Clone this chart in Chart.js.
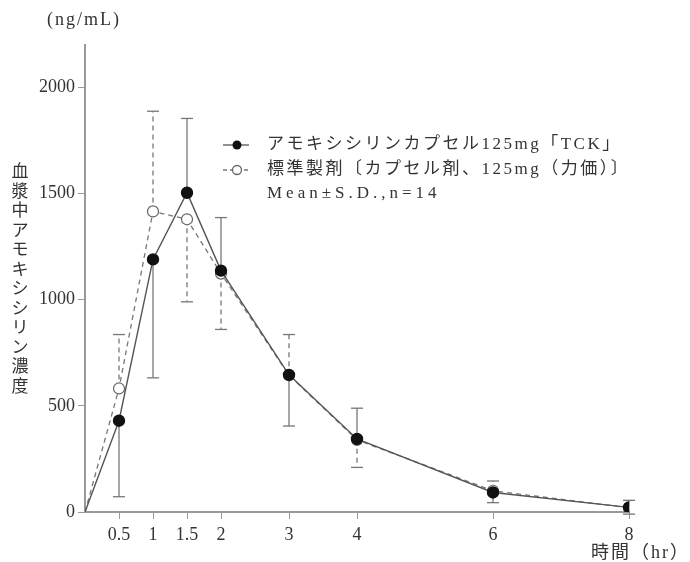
<!DOCTYPE html>
<html>
<head>
<meta charset="utf-8">
<script src="https://cdn.jsdelivr.net/npm/chart.js@4.4.1/dist/chart.umd.min.js"></script>
<style>
  html, body { margin: 0; padding: 0; background: #fff; }
  #wrap { width: 690px; height: 562px; }
</style>
</head>
<body>
<div id="wrap"><canvas id="chart" width="690" height="562"></canvas></div>
<script>
// sampling times (hr) and tick positions
const hours = [0, 0.5, 1, 1.5, 2, 3, 4, 6, 8];
const hourTicks = [0.5, 1, 1.5, 2, 3, 4, 6, 8];
const concTicks = [0, 500, 1000, 1500, 2000];

// アモキシシリンカプセル125mg「TCK」
const tckMean = [0, 430, 1190, 1504, 1137, 646, 344, 92, 22];
const tckSd   = [0, 358, 558, 350, 250, 241, 145, 48, 33];
const tckSide = [0, -1, -1, 1, 1, -1, 1, -1, 1];

// 標準製剤
const refMean = [0, 582, 1416, 1379, 1123, 644, 340, 100, 20];
const refSd   = [0, 254, 472, 389, 263, 192, 130, 46, 30];
const refSide = [0, 1, 1, -1, -1, 1, -1, 1, -1];

const legendLabels = [
  'アモキシシリンカプセル125mg「TCK」',
  '標準製剤〔カプセル剤、125mg（力価）〕',
  'Mean±S.D.,n=14'
];
const yTitle = '血漿中アモキシシリン濃度';

const FONT = '"Liberation Serif", "Noto Sans CJK JP", serif';
const TEXT = '#333';

const errorBars = {
  id: 'errorBars',
  beforeDatasetsDraw(chart) {
    const ctx = chart.ctx;
    const y = chart.scales.y;
    const sets = [[tckMean, tckSd, tckSide, []], [refMean, refSd, refSide, [5, 4]]];
    sets.forEach(([mean, sd, side, dash], di) => {
      const meta = chart.getDatasetMeta(di);
      ctx.save();
      ctx.strokeStyle = '#777';
      ctx.lineWidth = 1.3;
      ctx.setLineDash(dash);
      meta.data.forEach((pt, i) => {
        if (!sd[i]) return;
        const end = y.getPixelForValue(mean[i] + side[i] * sd[i]);
        ctx.beginPath();
        ctx.moveTo(pt.x, pt.y);
        ctx.lineTo(pt.x, end);
        ctx.stroke();
        ctx.setLineDash([]);
        ctx.beginPath();
        ctx.moveTo(pt.x - 6, end);
        ctx.lineTo(pt.x + 6, end);
        ctx.stroke();
        ctx.setLineDash(dash);
      });
      ctx.restore();
    });
  }
};

const labels = {
  id: 'labels',
  afterDraw(chart) {
    const ctx = chart.ctx;
    ctx.save();
    ctx.fillStyle = TEXT;
    ctx.textBaseline = 'middle';

    // unit and axis titles
    ctx.font = '18px ' + FONT;
    ctx.letterSpacing = '2px';
    ctx.textAlign = 'left';
    ctx.fillText('(ng/mL)', 47, 20);
    ctx.textAlign = 'right';
    ctx.letterSpacing = '2px';
    ctx.fillText('時間（hr）', 690, 553);
    ctx.letterSpacing = '0px';

    ctx.textAlign = 'center';
    ctx.font = '17px "Noto Sans CJK JP", sans-serif';
    [...yTitle].forEach((ch, i) => ctx.fillText(ch, 20, 171 + i * 19.5));

    // legend
    const lx = 223, rows = [145, 170, 194];
    ctx.strokeStyle = '#555';
    ctx.lineWidth = 1.3;
    ctx.beginPath();
    ctx.moveTo(lx, rows[0]); ctx.lineTo(lx + 26, rows[0]);
    ctx.stroke();
    ctx.fillStyle = '#111';
    ctx.beginPath(); ctx.arc(lx + 14, rows[0], 4.5, 0, Math.PI * 2); ctx.fill();

    ctx.strokeStyle = '#777';
    ctx.setLineDash([4, 3]);
    ctx.beginPath();
    ctx.moveTo(lx, rows[1]); ctx.lineTo(lx + 26, rows[1]);
    ctx.stroke();
    ctx.setLineDash([]);
    ctx.fillStyle = '#fff';
    ctx.strokeStyle = '#666';
    ctx.beginPath(); ctx.arc(lx + 14, rows[1], 4.5, 0, Math.PI * 2); ctx.fill(); ctx.stroke();

    ctx.fillStyle = TEXT;
    ctx.textAlign = 'left';
    ctx.font = '17px ' + FONT;
    ctx.letterSpacing = '2.5px';
    ctx.fillText(legendLabels[0], 267, rows[0]);
    ctx.fillText(legendLabels[1], 267, rows[1]);
    ctx.letterSpacing = '4px';
    ctx.fillText(legendLabels[2], 267, rows[2]);
    ctx.restore();
  }
};

new Chart(document.getElementById('chart'), {
  type: 'line',
  data: {
    datasets: [
      {
        label: legendLabels[0],
        data: hours.map((h, i) => ({ x: h, y: tckMean[i] })),
        borderColor: '#555',
        borderWidth: 1.4,
        pointRadius: ctx => ctx.dataIndex === 0 ? 0 : 5.5,
        pointBackgroundColor: '#111',
        pointBorderColor: '#111',
        tension: 0
      },
      {
        label: legendLabels[1],
        data: hours.map((h, i) => ({ x: h, y: refMean[i] })),
        borderColor: '#777',
        borderWidth: 1.3,
        borderDash: [5, 4],
        pointRadius: ctx => ctx.dataIndex === 0 ? 0 : 5.5,
        pointBackgroundColor: '#fff',
        pointBorderColor: '#666',
        pointBorderWidth: 1.2,
        tension: 0
      }
    ]
  },
  options: {
    responsive: false,
    animation: false,
    layout: { padding: { top: 45, right: 61, left: 0, bottom: 0 } },
    plugins: { legend: { display: false }, tooltip: { enabled: false } },
    scales: {
      x: {
        type: 'linear',
        min: 0,
        max: 8,
        afterBuildTicks: s => { s.ticks = hourTicks.map(v => ({ value: v })); },
        afterFit: s => { s.height = 50; },
        grid: { drawOnChartArea: false, tickLength: 7, color: '#999' },
        border: { color: '#999', width: 2 },
        ticks: {
          color: TEXT, font: { family: FONT, size: 18 }, padding: 5,
          maxRotation: 0, autoSkip: false, callback: v => String(v)
        }
      },
      y: {
        min: 0,
        max: 2200,
        afterBuildTicks: s => { s.ticks = concTicks.map(v => ({ value: v })); },
        afterFit: s => { s.width = 85; },
        grid: { drawOnChartArea: false, tickLength: 7, color: '#999' },
        border: { color: '#999', width: 2 },
        ticks: { color: TEXT, font: { family: FONT, size: 18 }, padding: 3, callback: v => String(v) }
      }
    }
  },
  plugins: [errorBars, labels]
});
</script>
</body>
</html>
